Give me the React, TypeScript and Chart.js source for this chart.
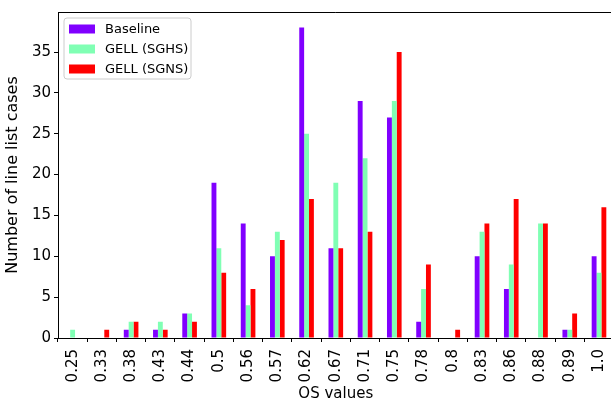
import React, { useEffect, useRef } from "react";
import { Chart, registerables } from "chart.js";

Chart.register(...registerables);

const categories = ["0.25", "0.33", "0.38", "0.43", "0.44", "0.5", "0.56", "0.57", "0.62", "0.67", "0.71", "0.75", "0.78", "0.8", "0.83", "0.86", "0.88", "0.89", "1.0"];
const baseline = [0, 0, 1, 1, 3, 19, 14, 10, 38, 11, 29, 27, 2, 0, 10, 6, 0, 1, 10];
const gellSGHS = [1, 0, 2, 2, 3, 11, 4, 13, 25, 19, 22, 29, 6, 0, 13, 9, 14, 1, 8];
const gellSGNS = [0, 1, 2, 1, 2, 8, 6, 12, 17, 11, 13, 35, 9, 1, 14, 17, 14, 3, 16];
const seriesNames = ["Baseline", "GELL (SGHS)", "GELL (SGNS)"];
const seriesColors = ["#8000ff", "#80ffb4", "#ff0000"];

const FONT = "'DejaVu Sans', sans-serif";

const framePlugin = {
  id: "frame",
  afterDraw(chart: any) {
    const { ctx, chartArea } = chart;
    ctx.save();
    ctx.strokeStyle = "#000";
    ctx.lineWidth = 1;
    ctx.beginPath();
    ctx.moveTo(chartArea.left, Math.round(chartArea.top) + 0.5);
    ctx.lineTo(chartArea.right, Math.round(chartArea.top) + 0.5);
    ctx.stroke();
    ctx.restore();
  },
};

const legendPlugin = {
  id: "mplLegend",
  afterDraw(chart: any) {
    const { ctx } = chart;
    const x = 64, y = 18, w = 127, h = 61, r = 3;
    ctx.save();
    ctx.beginPath();
    ctx.moveTo(x + r, y);
    ctx.lineTo(x + w - r, y);
    ctx.quadraticCurveTo(x + w, y, x + w, y + r);
    ctx.lineTo(x + w, y + h - r);
    ctx.quadraticCurveTo(x + w, y + h, x + w - r, y + h);
    ctx.lineTo(x + r, y + h);
    ctx.quadraticCurveTo(x, y + h, x, y + h - r);
    ctx.lineTo(x, y + r);
    ctx.quadraticCurveTo(x, y, x + r, y);
    ctx.closePath();
    ctx.fillStyle = "rgba(255,255,255,0.8)";
    ctx.fill();
    ctx.strokeStyle = "#cccccc";
    ctx.lineWidth = 1;
    ctx.stroke();
    ctx.font = `13px ${FONT}`;
    ctx.textBaseline = "middle";
    ctx.textAlign = "left";
    chart.data.datasets.forEach((ds: any, i: number) => {
      const cy = 29 + i * 20;
      ctx.fillStyle = ds.backgroundColor;
      ctx.fillRect(69, cy - 4.5, 26, 9);
      ctx.fillStyle = "#000";
      ctx.fillText(ds.label, 105, cy + 0.5);
    });
    ctx.restore();
  },
};

export default function App() {
  const ref = useRef<HTMLCanvasElement>(null);
  useEffect(() => {
    if (!ref.current) return;
    const chart = new Chart(ref.current, {
      type: "bar",
      data: {
        labels: categories,
        datasets: [baseline, gellSGHS, gellSGNS].map((d, i) => ({
          label: seriesNames[i],
          data: d,
          backgroundColor: seriesColors[i],
          borderWidth: 0,
          categoryPercentage: 0.5,
          barPercentage: 1.0,
        })),
      },
      options: {
        responsive: false,
        animation: false,
        devicePixelRatio: 1,
        layout: { padding: { top: 12, right: 0, left: 0, bottom: 0 } },
        plugins: { legend: { display: false }, tooltip: { enabled: false } },
        scales: {
          x: {
            type: "category",
            offset: true,
            grid: { display: true, drawOnChartArea: false, drawTicks: true, tickLength: 4, color: "#000" },
            border: { display: true, color: "#000", width: 1 },
            ticks: {
              autoSkip: false,
              minRotation: 90,
              maxRotation: 90,
              padding: 7,
              color: "#000",
              font: { family: FONT, size: 15 },
            },
            title: {
              display: true,
              text: "OS values",
              color: "#000",
              font: { family: FONT, size: 15 },
              padding: { top: 0, bottom: 0 },
            },
            afterFit(scale: any) {
              scale.height = 65;
            },
          },
          y: {
            min: 0,
            max: 39.9,
            grid: { display: true, drawOnChartArea: false, drawTicks: true, tickLength: 4, color: "#000" },
            border: { display: true, color: "#000", width: 1 },
            ticks: {
              stepSize: 5,
              padding: 3,
              color: "#000",
              font: { family: FONT, size: 15 },
            },
            afterBuildTicks(scale: any) {
              scale.ticks = scale.ticks.filter((t: any) => t.value % 5 === 0);
            },
            title: {
              display: true,
              text: "Number of line list cases",
              color: "#000",
              font: { family: FONT, size: 16 },
              padding: { top: 3, bottom: 0 },
            },
            afterFit(scale: any) {
              scale.width = 58;
            },
          },
        },
      },
      plugins: [framePlugin, legendPlugin],
    });
    return () => chart.destroy();
  }, []);
  return (
    <div style={{ position: "fixed", left: 0, top: 0, width: 611, height: 399, overflow: "hidden", background: "#fff" }}>
      <canvas ref={ref} width={624} height={403} style={{ display: "block" }} />
    </div>
  );
}
